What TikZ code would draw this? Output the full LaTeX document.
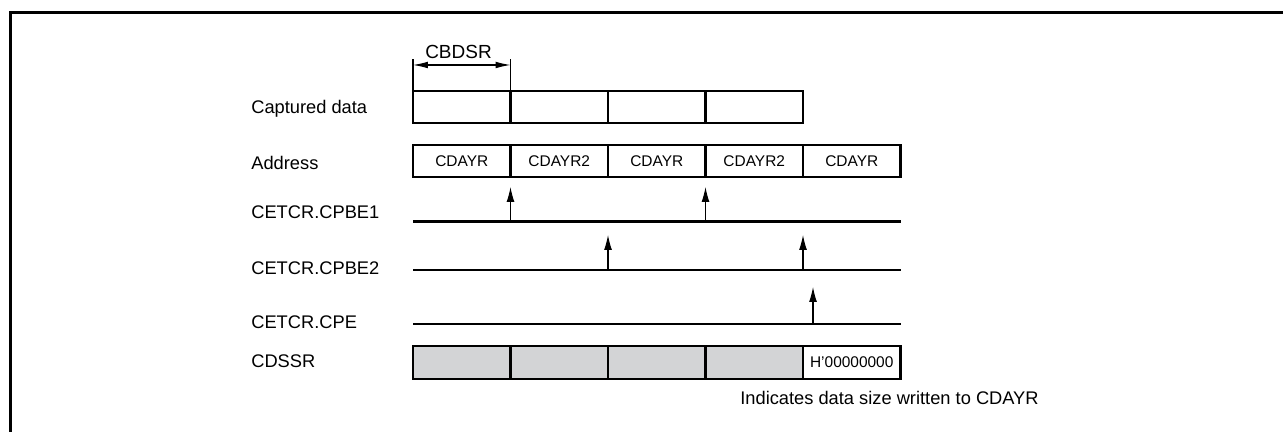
\documentclass[tikz,border=0pt]{standalone}
\usepackage{fontspec}
\setmainfont{Liberation Sans}
\usetikzlibrary{arrows.meta,positioning}
\definecolor{cellgray}{RGB}{211,212,214}

\begin{document}
\begin{tikzpicture}[
    cell/.style={draw, line width=1.4pt, outer sep=0pt, inner sep=0pt, minimum width=1.95cm,
                 minimum height=0.64cm, font=\fontsize{8.8}{10}\selectfont},
    lbl/.style={anchor=base west, inner sep=0pt, font=\fontsize{10.4}{12}\selectfont},
    sig/.style={line width=1.4pt},
    trig/.style={line width=0.6pt, -{Latex[length=8.5pt,width=4.5pt]}},
    span/.style={line width=0.6pt, {Latex[length=8.5pt,width=3.8pt]}-{Latex[length=8.5pt,width=3.8pt]}}]
    \useasboundingbox (0,0) rectangle (25.66,-8.64);
    \draw[line width=1.7pt] (0.21,-8.64) -- (0.21,-0.25) -- (25.66,-0.25);

    % row labels
    \node[lbl] (lcap)  at (5.02,-2.28) {Captured data};
    \node[lbl] (laddr) at (5.02,-3.40) {Address};
    \node[lbl] (lbe1)  at (5.02,-4.38) {CETCR.CPBE1};
    \node[lbl] (lbe2)  at (5.02,-5.49) {CETCR.CPBE2};
    \node[lbl] (lcpe)  at (5.02,-6.57) {CETCR.CPE};
    \node[lbl] (lssr)  at (5.02,-7.35) {CDSSR};

    % captured data
    \node[cell] (c1) at (9.235,-2.14) {};
    \node[cell, right=0pt of c1] (c2) {};
    \node[cell, right=0pt of c2] (c3) {};
    \node[cell, right=0pt of c3] (c4) {};

    % address
    \node[cell] (a1) at (9.235,-3.22) {CDAYR};
    \node[cell, right=0pt of a1] (a2) {CDAYR2};
    \node[cell, right=0pt of a2] (a3) {CDAYR};
    \node[cell, right=0pt of a3] (a4) {CDAYR2};
    \node[cell, right=0pt of a4] (a5) {CDAYR};

    % CDSSR
    \node[cell, fill=cellgray, minimum height=0.66cm] (s1) at (9.235,-7.25) {};
    \node[cell, fill=cellgray, minimum height=0.66cm, right=0pt of s1] (s2) {};
    \node[cell, fill=cellgray, minimum height=0.66cm, right=0pt of s2] (s3) {};
    \node[cell, fill=cellgray, minimum height=0.66cm, right=0pt of s3] (s4) {};
    \node[cell, minimum height=0.66cm, right=0pt of s4] (s5) {H'00000000};

    % CBDSR span
    \draw[line width=0.6pt] (c1.north west) -- ++(0,0.64) coordinate (w1);
    \draw[line width=0.6pt] (c1.north east) -- ++(0,0.64) coordinate (w2);
    \draw[span] ([yshift=-0.12cm]w1) -- ([yshift=-0.12cm]w2);
    \node[anchor=base, inner sep=0pt, font=\fontsize{10.8}{12}\selectfont] (cbdsr) at (9.17,-1.17) {CBDSR};

    % signal lines
    \coordinate (l1a) at (8.26,-4.43);  \coordinate (l1b) at (18.01,-4.43);
    \coordinate (l2a) at (8.26,-5.40);  \coordinate (l2b) at (18.01,-5.40);
    \coordinate (l3a) at (8.26,-6.48);  \coordinate (l3b) at (18.01,-6.48);
    \draw[sig] (l1a) -- (l1b);
    \draw[sig] (l2a) -- (l2b);
    \draw[sig] (l3a) -- (l3b);

    % triggers
    \draw[trig] (a1.east |- l1a) -- ++(0,0.69);
    \draw[trig] (a3.east |- l1a) -- ++(0,0.69);
    \draw[trig] (a2.east |- l2a) -- ++(0,0.70);
    \draw[trig] (a4.east |- l2a) -- ++(0,0.70);
    \draw[trig] ([xshift=0.2cm]a4.east |- l3a) -- ++(0,0.74);

    \node[lbl] (note) at (14.8,-8.09) {Indicates data size written to CDAYR};
  \end{tikzpicture}
\end{document}
